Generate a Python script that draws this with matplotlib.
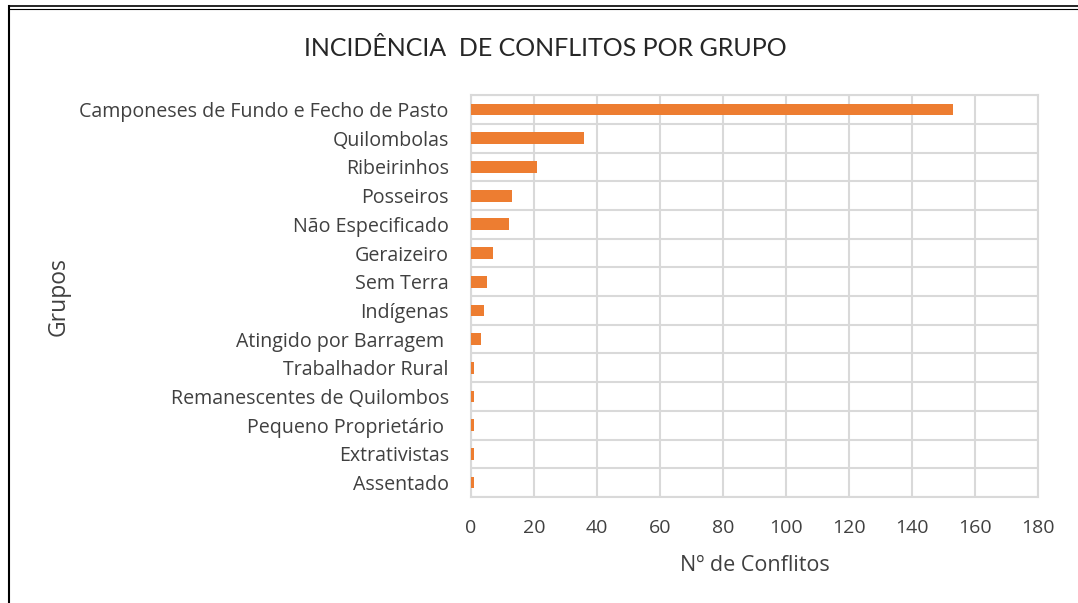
import matplotlib
matplotlib.use("Agg")
import matplotlib.pyplot as plt
from matplotlib.lines import Line2D
import numpy as np

# dados
grupos = ['Camponeses de Fundo e Fecho de Pasto', 'Quilombolas', 'Ribeirinhos',
          'Posseiros', 'Não Especificado', 'Geraizeiro', 'Sem Terra', 'Indígenas',
          'Atingido por Barragem ', 'Trabalhador Rural', 'Remanescentes de Quilombos',
          'Pequeno Proprietário ', 'Extrativistas', 'Assentado']
conflitos = [153, 36, 21, 13, 12, 7, 5, 4, 3, 1, 1, 1, 1, 1]
xticks = [0, 20, 40, 60, 80, 100, 120, 140, 160, 180]

plt.rcParams['font.family'] = ['Open Sans', 'DejaVu Sans']
cor_texto = '#404040'
cor_grade = '#d9d9d9'

fig = plt.figure(figsize=(10.78, 6.03), dpi=100)
ax = fig.add_axes([0.437, 0.176, 0.526, 0.666])

y = np.arange(len(grupos))
ax.barh(y, conflitos, height=0.41, color='#ed7d31', zorder=3)

ax.set_xlim(0, 180)
ax.set_ylim(len(grupos) - 0.5, -0.5)
ax.set_xticks(xticks)
ax.set_yticks(y)
ax.set_yticklabels(grupos)
ax.set_yticks(np.arange(len(grupos) + 1) - 0.5, minor=True)

ax.grid(True, axis='x', which='major', color=cor_grade, linewidth=1.5, zorder=0)
ax.grid(True, axis='y', which='minor', color=cor_grade, linewidth=1.5, zorder=0)
ax.tick_params(axis='both', which='both', length=0, colors=cor_texto)
ax.tick_params(axis='x', pad=16, labelsize=14)
ax.tick_params(axis='y', pad=16, labelsize=14.1)
for s in ax.spines.values():
    s.set_color(cor_grade)
    s.set_linewidth(1.5)

ax.set_xlabel('Nº de Conflitos', fontsize=15.5, color=cor_texto, labelpad=13)
ax.set_ylabel('Grupos', fontsize=16.5, color=cor_texto, labelpad=0)
ax.yaxis.set_label_coords(-0.707, 0.5)

fig.text(0.506, 0.92, 'INCIDÊNCIA  DE CONFLITOS POR GRUPO', ha='center', va='center',
         fontsize=18, color='#262626', family=['Lato', 'DejaVu Sans'])

# moldura da página
fig.add_artist(Line2D([0.008, 1.0], [0.990, 0.990], color='black', linewidth=1.2))
fig.add_artist(Line2D([0.008, 1.0], [0.985, 0.985], color='black', linewidth=0.8))
fig.add_artist(Line2D([0.008, 0.008], [0.0, 0.990], color='black', linewidth=1.5))

fig.savefig('out.png', dpi=100)
